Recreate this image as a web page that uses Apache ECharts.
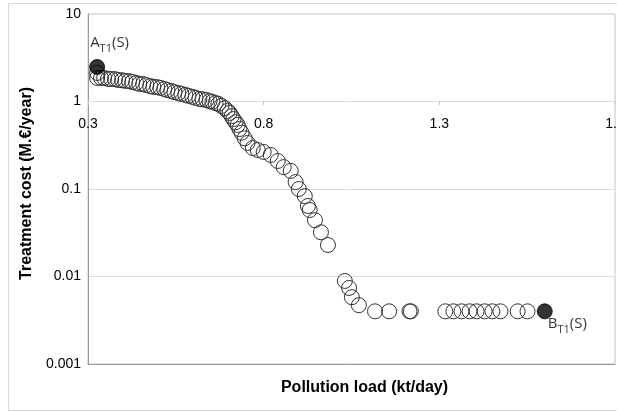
<!DOCTYPE html>
<html>
<head>
<meta charset="utf-8">
<script src="https://cdn.jsdelivr.net/npm/echarts@6/dist/echarts.min.js"></script>
<style>
  html, body { margin: 0; padding: 0; background: #fff; }
  #wrap { width: 617px; height: 412px; overflow: hidden; }
  #chart { width: 618px; height: 412px; }
</style>
</head>
<body>
<div id="wrap"><div id="chart"></div></div>
<script>
// Hollow points: pollution load (kt/day) and treatment cost (M.€/year)
const loadHollow = [
  0.326, 0.326, 0.337, 0.346, 0.357, 0.366, 0.377, 0.386, 0.397, 0.406,
  0.417, 0.426, 0.437, 0.446, 0.457, 0.466, 0.477, 0.486, 0.497, 0.506,
  0.517, 0.526, 0.537, 0.546, 0.557, 0.566, 0.577, 0.586, 0.597, 0.606,
  0.617, 0.626, 0.637, 0.646, 0.654, 0.663, 0.671, 0.680, 0.689, 0.697,
  0.703, 0.709, 0.714, 0.720, 0.726, 0.731, 0.737, 0.746, 0.754, 0.769,
  0.783, 0.800, 0.820, 0.840, 0.857, 0.877, 0.891, 0.900, 0.917, 0.926,
  0.931, 0.946, 0.963, 0.983,
  1.031, 1.043, 1.051, 1.071, 1.117, 1.157, 1.215, 1.219,
  1.317, 1.340, 1.363, 1.386, 1.406, 1.429, 1.451, 1.474, 1.523, 1.551
];
const costHollow = [
  2.12, 1.86, 1.86, 1.86, 1.81, 1.81, 1.80, 1.76, 1.75, 1.72,
  1.71, 1.67, 1.63, 1.59, 1.58, 1.54, 1.50, 1.47, 1.46, 1.43,
  1.39, 1.35, 1.32, 1.28, 1.25, 1.22, 1.19, 1.16, 1.13, 1.10,
  1.07, 1.06, 1.04, 1.01, 0.99, 0.96, 0.94, 0.89, 0.84, 0.78,
  0.74, 0.68, 0.63, 0.58, 0.54, 0.485, 0.44, 0.38, 0.336, 0.294,
  0.279, 0.265, 0.245, 0.209, 0.178, 0.161, 0.120, 0.100, 0.083, 0.064,
  0.0575, 0.044, 0.032, 0.0229,
  0.0089, 0.0074, 0.0058, 0.0047, 0.004, 0.004, 0.004, 0.004,
  0.004, 0.004, 0.004, 0.004, 0.004, 0.004, 0.004, 0.004, 0.004, 0.004
];
// Filled end points A and B
const endLoad = [0.326, 1.600];
const endCost = [2.48, 0.004];
const endNames = ['A', 'B'];

// Axis ticks
const xMin = 0.3, xMax = 1.8, xStep = 0.5;
const yMin = 0.001, yMax = 10;

const xTitle = 'Pollution load (kt/day)';
const yTitle = 'Treatment cost (M.€/year)';

const chart = echarts.init(document.getElementById('chart'), null, { renderer: 'canvas' });

const hollowData = loadHollow.map((x, i) => [x, costHollow[i]]);
const richLabel = {
  m: { fontSize: 15, fontFamily: 'Open Sans', color: '#000', lineHeight: 17, verticalAlign: 'top' },
  s: { fontSize: 11, fontFamily: 'Open Sans', color: '#000', lineHeight: 12, padding: [8, 0, 0, 0], verticalAlign: 'top' }
};
const labelPos = [[1, -24], [11, 13]];
const endData = endLoad.map((x, i) => ({
  value: [x, endCost[i]],
  label: {
    show: true,
    position: labelPos[i],
    formatter: '{m|' + endNames[i] + '}{s|T1}{m|(S)}',
    rich: richLabel
  }
}));

const labelFont = { fontFamily: 'Liberation Sans, Arial, sans-serif', fontSize: 14, color: '#000' };

chart.setOption({
  animation: false,
  backgroundColor: '#fff',
  graphic: [{
    type: 'rect',
    shape: { x: 8.5, y: 3.5, width: 700, height: 407 },
    style: { fill: 'none', stroke: '#d9d9d9', lineWidth: 1 },
    z: -10
  }],
  grid: {
    left: 88, top: 14, right: 3, bottom: 48,
    containLabel: false,
    outerBoundsMode: 'none',
    show: true, borderColor: '#c4c4c4', borderWidth: 1, backgroundColor: 'transparent'
  },
  xAxis: [{
    type: 'value',
    min: xMin, max: xMax, interval: xStep,
    position: 'bottom',
    offset: -263,
    axisLine: { show: false },
    axisTick: { show: true, length: 4, inside: false, lineStyle: { color: '#c8c8c8' } },
    axisLabel: Object.assign({ margin: 16, showMaxLabel: true, showMinLabel: true }, labelFont),
    splitLine: { show: false }
  }, {
    type: 'value',
    min: xMin, max: xMax,
    position: 'bottom',
    axisLine: { show: true, lineStyle: { color: '#9a9a9a' } },
    axisTick: { show: false },
    axisLabel: { show: false },
    splitLine: { show: false },
    name: xTitle,
    nameLocation: 'middle',
    nameGap: 16,
    nameTextStyle: { fontFamily: 'Liberation Sans, Arial, sans-serif', fontSize: 16, fontWeight: 'bold', color: '#000', padding: [0, 0, 0, 26] }
  }],
  yAxis: {
    type: 'log',
    logBase: 10,
    min: yMin, max: yMax,
    axisLine: { show: true, lineStyle: { color: '#9a9a9a' } },
    axisTick: { show: false },
    axisLabel: Object.assign({ margin: 7 }, labelFont),
    splitLine: { show: true, lineStyle: { color: '#dddddd', width: 1 } },
    minorTick: { show: false },
    name: yTitle,
    nameLocation: 'middle',
    nameGap: 52,
    nameRotate: 90,
    nameTextStyle: { fontFamily: 'Liberation Sans, Arial, sans-serif', fontSize: 16, fontWeight: 'bold', color: '#000', padding: [0, 0, 0, 11] }
  },
  series: [{
    type: 'scatter',
    xAxisIndex: 0,
    data: hollowData,
    symbol: 'circle',
    symbolSize: 15,
    itemStyle: { color: 'rgba(0,0,0,0)', borderColor: '#333', borderWidth: 1, opacity: 1 },
    emphasis: { disabled: true },
    z: 2
  }, {
    type: 'scatter',
    xAxisIndex: 0,
    data: endData,
    symbol: 'circle',
    symbolSize: 15,
    itemStyle: { color: '#000', borderColor: '#000', borderWidth: 1 },
    emphasis: { disabled: true },
    z: 3
  }]
});
</script>
</body>
</html>
